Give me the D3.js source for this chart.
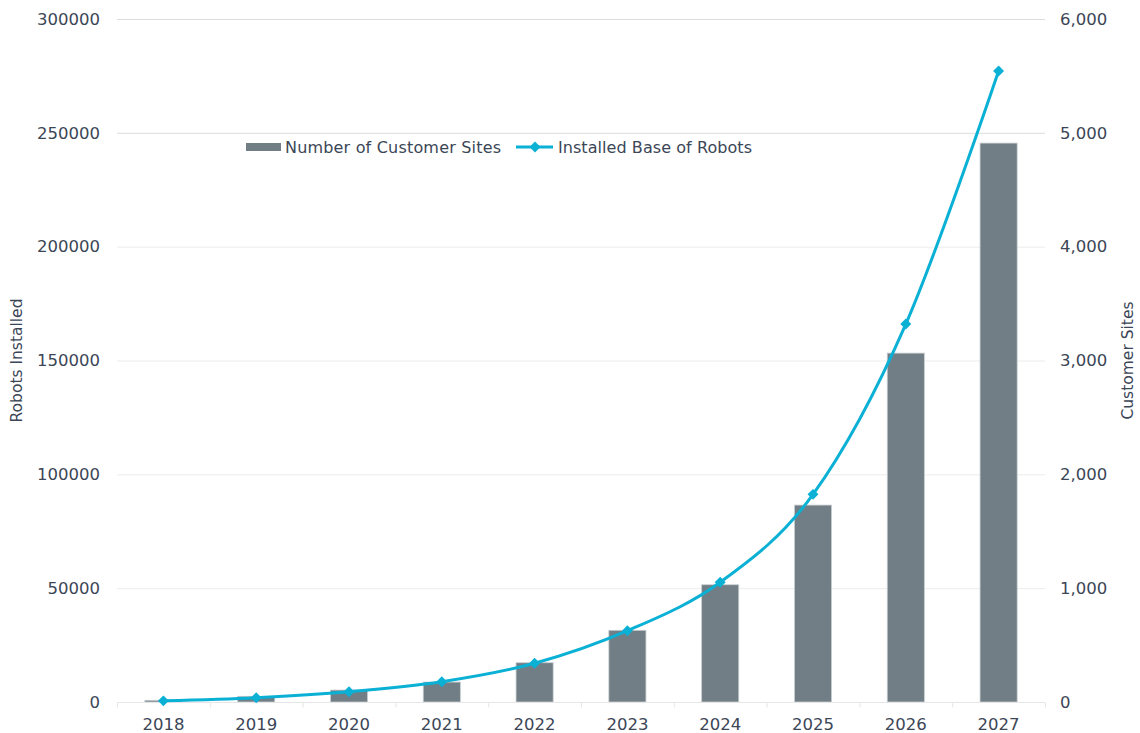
<!DOCTYPE html>
<html>
<head>
<meta charset="utf-8">
<script src="https://cdn.jsdelivr.net/npm/d3@7"></script>
<style>
  body { margin: 0; background: #fff; }
  text { font-family: "DejaVu Sans", sans-serif; fill: #3b4656; }
</style>
</head>
<body>
<script>
// Chart data
const years = ['2018', '2019', '2020', '2021', '2022', '2023', '2024', '2025', '2026', '2027'];
const customerSites = [15, 50, 105, 175, 345, 630, 1030, 1730, 3065, 4910];
const installedRobots = [500, 1900, 4500, 8900, 17000, 31300, 52600, 91200, 166000, 277200];
const leftTicks = [0, 50000, 100000, 150000, 200000, 250000, 300000];
const rightTicks = [0, 1000, 2000, 3000, 4000, 5000, 6000];

const width = 1140;
const height = 733;
const margin = { top: 19, right: 95, bottom: 31, left: 117 };

const svg = d3.select('body')
  .append('svg')
  .attr('width', width)
  .attr('height', height);

// Scales
const x = d3.scaleBand()
  .domain(years)
  .range([margin.left, width - margin.right])
  .paddingInner(0.6)
  .paddingOuter(0.3);

const xOuter = d3.scaleBand()
  .domain(years)
  .range([margin.left, width - margin.right]);

const yLeft = d3.scaleLinear()
  .domain([0, 300000])
  .range([height - margin.bottom, margin.top]);

const yRight = d3.scaleLinear()
  .domain([0, 6000])
  .range([height - margin.bottom, margin.top]);

// Gridlines
svg.append('g')
  .selectAll('line')
  .data(leftTicks.slice(1))
  .enter()
  .append('line')
  .attr('x1', margin.left)
  .attr('x2', width - margin.right)
  .attr('y1', d => yLeft(d) + 0.5)
  .attr('y2', d => yLeft(d) + 0.5)
  .attr('stroke', d => d >= 250000 ? '#dcdcdc' : '#ececec')
  .attr('stroke-width', 1);

// Left axis
const leftAxis = svg.append('g')
  .attr('transform', `translate(${margin.left - 17},0)`)
  .call(d3.axisLeft(yLeft).tickValues(leftTicks).tickFormat(d3.format('d')).tickSize(0).tickPadding(0));
leftAxis.select('.domain').remove();
leftAxis.selectAll('text').style('font-size', '16.5px');

// Right axis
const rightAxis = svg.append('g')
  .attr('transform', `translate(${width - margin.right + 15},0)`)
  .call(d3.axisRight(yRight).tickValues(rightTicks).tickFormat(d3.format(',')).tickSize(0).tickPadding(0));
rightAxis.select('.domain').remove();
rightAxis.selectAll('text').style('font-size', '16.5px');

// Bars: customer sites on the right axis
svg.append('g')
  .selectAll('rect')
  .data(years)
  .enter()
  .append('rect')
  .attr('x', d => x(d))
  .attr('y', (d, i) => yRight(customerSites[i]))
  .attr('width', x.bandwidth())
  .attr('height', (d, i) => yRight(0) - yRight(customerSites[i]))
  .attr('fill', '#717e85')
  .attr('stroke', '#c9cfd2')
  .attr('stroke-width', 0.8);

// X axis baseline and ticks
const base = yLeft(0) + 0.5;
svg.append('line')
  .attr('x1', margin.left)
  .attr('x2', width - margin.right)
  .attr('y1', base)
  .attr('y2', base)
  .attr('stroke', '#e6e6e6');

svg.append('g')
  .selectAll('line')
  .data(years.concat(['end']))
  .enter()
  .append('line')
  .attr('x1', (d, i) => margin.left + i * xOuter.step() + 0.5)
  .attr('x2', (d, i) => margin.left + i * xOuter.step() + 0.5)
  .attr('y1', base)
  .attr('y2', base + 5)
  .attr('stroke', '#e6e6e6');

svg.append('g')
  .selectAll('text')
  .data(years)
  .enter()
  .append('text')
  .attr('x', d => xOuter(d) + xOuter.bandwidth() / 2)
  .attr('y', 730)
  .attr('text-anchor', 'middle')
  .style('font-size', '16.5px')
  .text(d => d);

// Line: installed robots on the left axis
const lineColor = '#0bb0d5';
const line = d3.line()
  .x((d, i) => xOuter(years[i]) + xOuter.bandwidth() / 2)
  .y(d => yLeft(d))
  .curve(d3.curveCardinal.tension(0));

svg.append('path')
  .datum(installedRobots)
  .attr('d', line)
  .attr('fill', 'none')
  .attr('stroke', lineColor)
  .attr('stroke-width', 3);

// square markers turned 45 degrees
const marker = d3.symbol().type(d3.symbolSquare).size(60);
svg.append('g')
  .selectAll('path')
  .data(installedRobots)
  .enter()
  .append('path')
  .attr('d', marker)
  .attr('transform', (d, i) => `translate(${xOuter(years[i]) + xOuter.bandwidth() / 2},${yLeft(d)}) rotate(45)`)
  .attr('fill', lineColor);

// Axis titles
svg.append('text')
  .attr('transform', `translate(22,${(margin.top + height - margin.bottom) / 2}) rotate(-90)`)
  .attr('text-anchor', 'middle')
  .style('font-size', '15.5px')
  .text('Robots Installed');

svg.append('text')
  .attr('transform', `translate(1133,${(margin.top + height - margin.bottom) / 2}) rotate(-90)`)
  .attr('text-anchor', 'middle')
  .style('font-size', '15.5px')
  .text('Customer Sites');

// Legend
const legend = svg.append('g').attr('transform', 'translate(246,147)');
legend.append('rect')
  .attr('x', 0).attr('y', -4)
  .attr('width', 35).attr('height', 8)
  .attr('fill', '#717e85');
legend.append('text')
  .attr('x', 39).attr('y', 6)
  .style('font-size', '16px')
  .attr('textLength', 216)
  .text('Number of Customer Sites');
legend.append('line')
  .attr('x1', 270).attr('x2', 307)
  .attr('y1', 0).attr('y2', 0)
  .attr('stroke', lineColor)
  .attr('stroke-width', 3);
legend.append('path')
  .attr('d', marker)
  .attr('transform', 'translate(289,0) rotate(45)')
  .attr('fill', lineColor);
legend.append('text')
  .attr('x', 312).attr('y', 6)
  .style('font-size', '16px')
  .attr('textLength', 194)
  .text('Installed Base of Robots');
</script>
</body>
</html>
